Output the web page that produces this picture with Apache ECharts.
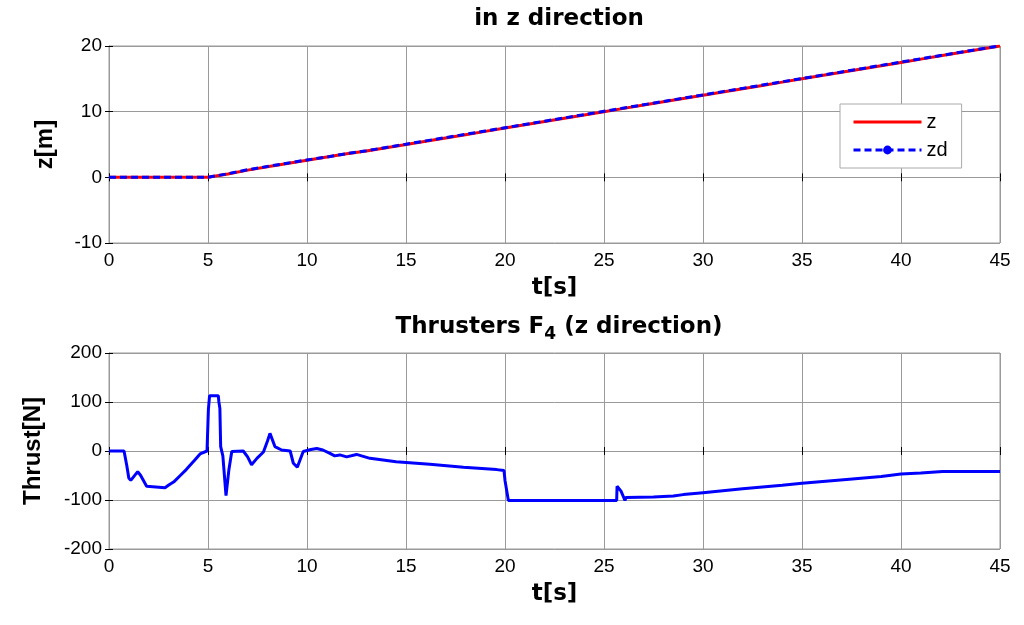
<!DOCTYPE html>
<html><head><meta charset="utf-8">
<script src="https://cdn.jsdelivr.net/npm/echarts@6/dist/echarts.min.js"></script>
<style>html,body{margin:0;padding:0;background:#fff}#c{width:1024px;height:625px}</style>
</head><body><div id="c"></div>
<script>
// Top plot: position z vs time
const tTop = [0,1,2,3,4,5,6,7,8,9,10,11,12,13,14,15,16,17,18,19,20,21,22,23,24,25,26,27,28,29,30,31,32,33,34,35,36,37,38,39,40,41,42,43,44,45];
const zVals = [0,0,0,0,0,0,0.5,1.1,1.6,2.1,2.6,3.1,3.6,4.0,4.5,5.0,5.5,6.0,6.5,7.0,7.5,8.0,8.5,9.0,9.5,10.0,10.5,11.0,11.5,12.0,12.5,13.0,13.5,14.0,14.5,15.0,15.5,16.0,16.5,17.0,17.5,18.0,18.5,19.0,19.5,20.0];
const zdVals = [0,0,0,0,0,0,0.55,1.15,1.65,2.15,2.65,3.1,3.6,4.05,4.55,5.05,5.55,6.05,6.55,7.05,7.55,8.05,8.55,9.05,9.55,10.05,10.55,11.05,11.55,12.05,12.55,13.05,13.55,14.05,14.55,15.05,15.55,16.05,16.55,17.05,17.55,18.05,18.55,19.05,19.55,20.0];
// Bottom plot: thrust F4
const tThr = [0,0.76,0.9,1.0,1.1,1.2,1.45,1.6,1.9,1.95,2.83,3.0,3.3,3.6,3.9,4.3,4.6,4.95,5.0,5.02,5.08,5.52,5.55,5.6,5.64,5.75,5.91,6.05,6.2,6.78,7.0,7.2,7.47,7.8,8.0,8.13,8.38,8.72,9.15,9.31,9.51,9.81,10.2,10.49,10.8,11.16,11.4,11.66,12.0,12.5,13.18,14.5,16.2,17.9,19.58,19.95,20.0,20.17,25.64,25.66,25.86,26.06,26.1,27.5,28.5,29.0,30,32,34,35,37.25,39,40,41,42.1,45];
const thrVals = [0,0,-30,-55,-60,-57,-42,-50,-72,-75,-75,-70,-62,-50,-38,-20,-6,0,0,85,113,113,100,87,9,-10,-91,-40,-1,0,-12,-28,-15,-2,20,36,9,2,0,-25,-33,-1,3,5,2,-5,-10,-8,-12,-7,-15,-22,-27,-33,-38,-40,-60,-101,-101,-72,-82,-101,-95,-94,-92,-89,-85,-77,-70,-66,-58,-52,-47,-45,-42,-42];

const xTicks = [0,5,10,15,20,25,30,35,40,45];
const topYTicks = [-10,0,10,20];
const botYTicks = [-200,-100,0,100,200];

const pair = (xs, ys) => xs.map((x, i) => [x, ys[i]]);
const FONT = 'Liberation Sans, Arial, sans-serif';
const BFONT = 'DejaVu Sans, sans-serif';
const gridColor = '#9a9a9a';

function xAx(gridIndex, show) {
  return {
    type: 'value', gridIndex, min: 0, max: 45, interval: 5,
    name: show ? 't[s]' : '', nameLocation: 'middle', nameGap: 34,
    nameTextStyle: {fontFamily: BFONT, fontSize: 23, fontWeight: 'bold', color: '#000'},
    axisLine: {show: true, lineStyle: {color: gridColor, width: 1}},
    axisTick: {show: true, inside: true, length: 4, lineStyle: {color: '#000', width: 1}},
    axisLabel: {show: show, fontFamily: FONT, fontSize: 19, color: '#000', margin: 8},
    splitLine: {show: show, lineStyle: {color: gridColor, width: 1}}
  };
}
function xAxTop(gridIndex) {
  const a = xAx(gridIndex, false);
  a.position = 'top';
  return a;
}
function yAx(gridIndex, min, max, interval, name, gap, show) {
  return {
    type: 'value', gridIndex, min, max, interval,
    name: show ? name : '', nameLocation: 'middle', nameGap: gap,
    nameTextStyle: {fontFamily: FONT, fontSize: 24, fontWeight: 'bold', color: '#000'},
    axisLine: {show: true, lineStyle: {color: gridColor, width: 1}},
    axisTick: {show: true, inside: true, length: 4, lineStyle: {color: '#000', width: 1}},
    axisLabel: {show: show, fontFamily: FONT, fontSize: 19, color: '#000', margin: 7},
    splitLine: {show: show, lineStyle: {color: gridColor, width: 1}}
  };
}
function yAxRight(gridIndex, min, max, interval) {
  const a = yAx(gridIndex, min, max, interval, '', 0, false);
  a.position = 'right';
  return a;
}

const chart = echarts.init(document.getElementById('c'));
chart.setOption({
  backgroundColor: '#fff',
  animation: false,
  title: [
    {text: 'in z direction', left: 554, top: 3, textAlign: 'center',
     textStyle: {fontFamily: BFONT, fontSize: 23, fontWeight: 'bold', color: '#000'}},
    {text: 'Thrusters F{sub|4} (z direction)', left: 554, top: 307, textAlign: 'center',
     textStyle: {fontFamily: BFONT, fontSize: 23, fontWeight: 'bold', color: '#000',
       rich: {sub: {fontFamily: BFONT, fontSize: 17, fontWeight: 'bold', color: '#000', verticalAlign: 'bottom', padding: [14, 0, 0, 0]}}}}
  ],
  legend: {
    data: [
      {name: 'z', itemStyle: {color: 'rgba(0,0,0,0)', borderWidth: 0, opacity: 0}},
      'zd'
    ],
    orient: 'vertical', left: 840, top: 104,
    backgroundColor: '#fff', borderColor: '#aaa', borderWidth: 1,
    padding: [8, 14, 8, 12], itemGap: 8, itemWidth: 68, itemHeight: 11,
    lineStyle: {width: 3},
    textStyle: {fontFamily: FONT, fontSize: 20, color: '#000'}
  },
  grid: [
    {left: 109, right: 24, top: 46, height: 197, show: true, borderColor: gridColor, borderWidth: 1},
    {left: 109, right: 24, top: 353, height: 196, show: true, borderColor: gridColor, borderWidth: 1}
  ],
  xAxis: [xAx(0, true), xAx(1, true), xAxTop(0), xAxTop(1)],
  yAxis: [
    yAx(0, -10, 20, 10, 'z[m]', 52, true),
    yAx(1, -200, 200, 100, 'Thrust[N]', 64, true),
    yAxRight(0, -10, 20, 10),
    yAxRight(1, -200, 200, 100)
  ],
  series: [
    {name: 'z', type: 'line', xAxisIndex: 0, yAxisIndex: 0, data: pair(tTop, zVals),
     showSymbol: false, symbol: 'none', lineStyle: {color: '#ff0000', width: 3}, itemStyle: {color: '#ff0000'}},
    {name: 'zd', type: 'line', xAxisIndex: 0, yAxisIndex: 0, data: pair(tTop, zdVals),
     showSymbol: false, symbol: 'circle', symbolSize: 8,
     lineStyle: {color: '#0000ff', width: 3, type: [7, 4]}, itemStyle: {color: '#0000ff'}},
    {name: 'F4', type: 'line', xAxisIndex: 1, yAxisIndex: 1, data: pair(tThr, thrVals),
     showSymbol: false, symbol: 'none', lineStyle: {color: '#0000ff', width: 3}}
  ]
});
</script></body></html>
